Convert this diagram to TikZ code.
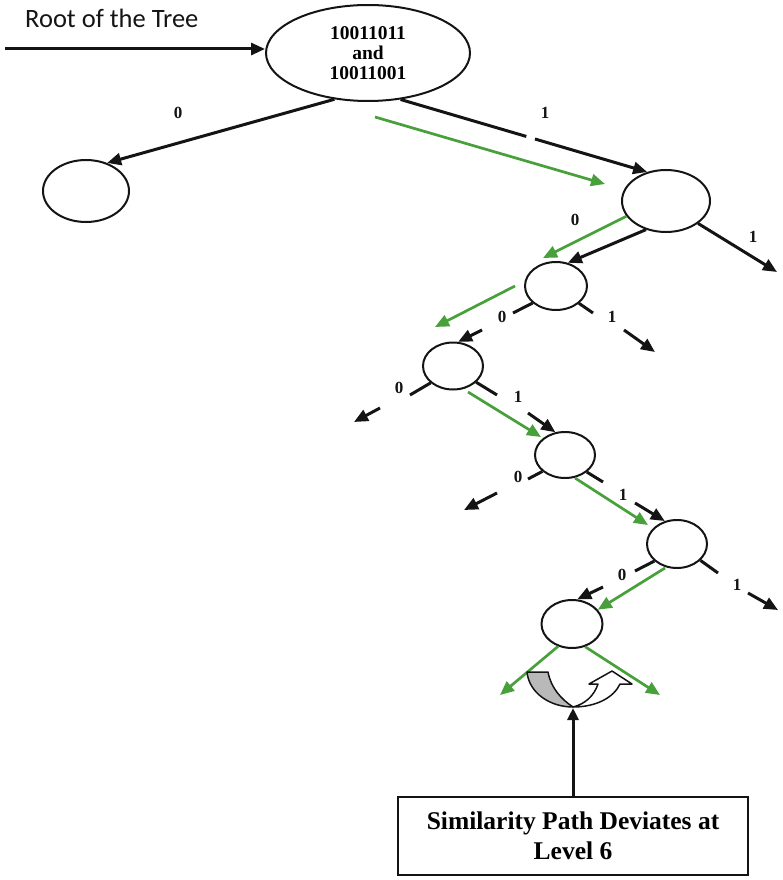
\documentclass[tikz,border=0pt]{standalone}
\usepackage{fontspec}
\setmainfont{Liberation Serif}
\newfontfamily\carlito{Carlito}
\usetikzlibrary{arrows.meta,shapes.geometric,calc}
\definecolor{pathgreen}{RGB}{72,160,58}
\definecolor{inkblack}{RGB}{20,20,20}
\definecolor{shadegray}{RGB}{185,185,185}
\begin{document}
\begin{tikzpicture}[x=1pt,y=-1pt,
  treenode/.style={ellipse,draw=inkblack,line width=2pt,inner sep=0pt},
  blk/.style={draw=inkblack,line width=3pt,-{Triangle[length=14pt,width=12pt]}},
  stub/.style={draw=inkblack,line width=3pt},
  grn/.style={draw=pathgreen,line width=2.7pt,-{Triangle[length=14pt,width=12pt]}},
  bit/.style={font=\bfseries\fontsize{17}{17}\selectfont,text=inkblack,inner sep=0pt},
]
\useasboundingbox (0,0) rectangle (782,880);

% title
\node[anchor=base west,inner sep=0pt,font=\carlito\fontsize{26.5}{26.5}\selectfont,text=inkblack] (title) at (25,28) {Root of the Tree};

% nodes
\node[treenode,minimum width=204pt,minimum height=96pt,align=center,
      font=\bfseries\fontsize{19.5}{20}\selectfont] (root) at (368,53) {10011011\\and\\10011001};
\node[treenode,minimum width=86pt,minimum height=62pt] (n0) at (86,191) {};
\node[treenode,minimum width=88pt,minimum height=62pt] (n1) at (666,201) {};
\node[treenode,minimum width=62pt,minimum height=48pt] (n2) at (556,286) {};
\node[treenode,minimum width=60pt,minimum height=47pt] (n3) at (453,366) {};
\node[treenode,minimum width=60pt,minimum height=46pt] (n4) at (565,455) {};
\node[treenode,minimum width=60pt,minimum height=48pt] (n5) at (677,544) {};
\node[treenode,minimum width=61pt,minimum height=48pt] (n6) at (572,624) {};

\node[draw=inkblack,line width=2.5pt,minimum width=350pt,minimum height=78pt,align=center,
      font=\bfseries\fontsize{25.5}{30}\selectfont] (box) at (573,836)
      {Similarity Path Deviates at\\Level 6};

% free coordinates
\coordinate (rin) at (5,49);
\coordinate (g1a) at (375,117);
\coordinate (g1b) at (605,184);
\coordinate (n1r) at (777,272);
\coordinate (g2b) at (543,258);
\coordinate (n2s0) at (513,313);
\coordinate (n2s1) at (593,313);
\coordinate (n2a1) at (624,330);
\coordinate (n2a2) at (655,352);
\coordinate (g3a) at (515,286);
\coordinate (g3b) at (435,327);
\coordinate (n3in) at (482,330);
\coordinate (n3s0) at (410,395);
\coordinate (n3s1) at (497,395);
\coordinate (n4in) at (528,413);
\coordinate (n3d1) at (380,408);
\coordinate (n3d2) at (354,422);
\coordinate (g4a) at (468,392);
\coordinate (g4b) at (541,437);
\coordinate (n4s0) at (528,479);
\coordinate (n4s1) at (603,482);
\coordinate (n5in) at (635,503);
\coordinate (n4d1) at (497,493);
\coordinate (n4d2) at (464,510);
\coordinate (g5a) at (575,478);
\coordinate (g5b) at (648,525);
\coordinate (n5s0) at (635,571);
\coordinate (n5s1) at (718,573);
\coordinate (n5a1) at (748,593);
\coordinate (n5a2) at (778,610);
\coordinate (n6in) at (603,587);
\coordinate (g6a) at (665,568);
\coordinate (g7l) at (500,695);
\coordinate (g7r) at (660,695);
\coordinate (tipc) at (573,708);

% root connectors
\draw[blk] (rin) -- (rin -| root.west);
\draw[blk] (root.234) -- (n0.53);
\draw[stub] (root.305) -- ($(root.305)!0.51!(n1.123)$);
\draw[blk] ($(root.305)!0.545!(n1.123)$) -- (n1.123);
\draw[grn] (g1a) -- (g1b);
\node[bit] (l0a) at (178,113) {0};
\node[bit] (l1a) at (545,113) {1};

% level 1
\draw[blk] (n1.235) -- (n2.63);
\draw[grn] (n1.201) -- (g2b);
\draw[blk] (n1.325) -- (n1r);
\node[bit] (l0b) at (575,220) {0};
\node[bit] (l1b) at (753,237) {1};

% level 2
\draw[stub] (n2.216) -- (n2s0);
\draw[stub] (n2.323) -- (n2s1);
\draw[blk] (n2a1) -- (n2a2);
\draw[grn] (g3a) -- (g3b);
\draw[blk] (n3in) -- (n3.78);
\node[bit] (l0c) at (502,317) {0};
\node[bit] (l1c) at (612,317) {1};

% level 3
\draw[stub] (n3.217) -- (n3s0);
\draw[stub] (n3.325) -- (n3s1);
\draw[blk] (n4in) -- (n4.113);
\draw[blk] (n3d1) -- (n3d2);
\draw[grn] (g4a) -- (g4b);
\node[bit] (l0d) at (399,388) {0};
\node[bit] (l1d) at (518,397) {1};

% level 4
\draw[stub] (n4.216) -- (n4s0);
\draw[stub] (n4.322) -- (n4s1);
\draw[blk] (n5in) -- (n5.118);
\draw[blk] (n4d1) -- (n4d2);
\draw[grn] (g5a) -- (g5b);
\node[bit] (l0e) at (518,477) {0};
\node[bit] (l1e) at (623,495) {1};

% level 5
\draw[stub] (n5.217) -- (n5s0);
\draw[stub] (n5.325) -- (n5s1);
\draw[blk] (n5a1) -- (n5a2);
\draw[blk] (n6in) -- (n6.78);
\draw[grn] (g6a) -- (n6.29);
\node[bit] (l0f) at (622,575) {0};
\node[bit] (l1f) at (737,585) {1};

% level 6
\draw[grn] (n6.238) -- (g7l);
\draw[grn] (n6.300) -- (g7r);

% curved up arrow
\draw[inkblack,line width=1.5pt,fill=shadegray,line join=round]
  (527,672) .. controls (529,693) and (550,707) .. (573,707)
  .. controls (561,699) and (551,688) .. (548,672) -- cycle;
\draw[inkblack,line width=1.5pt,fill=white,line join=round]
  (573,707) .. controls (597,707) and (614,697) .. (620,684)
  -- (632,684) -- (612,671) -- (589,684) -- (598,684)
  .. controls (594,696) and (585,704) .. (573,707) -- cycle;

% pointer
\draw[draw=inkblack,line width=3pt,-{Triangle[length=12pt,width=11pt]}] (box.north) -- (tipc);
\end{tikzpicture}
\end{document}
